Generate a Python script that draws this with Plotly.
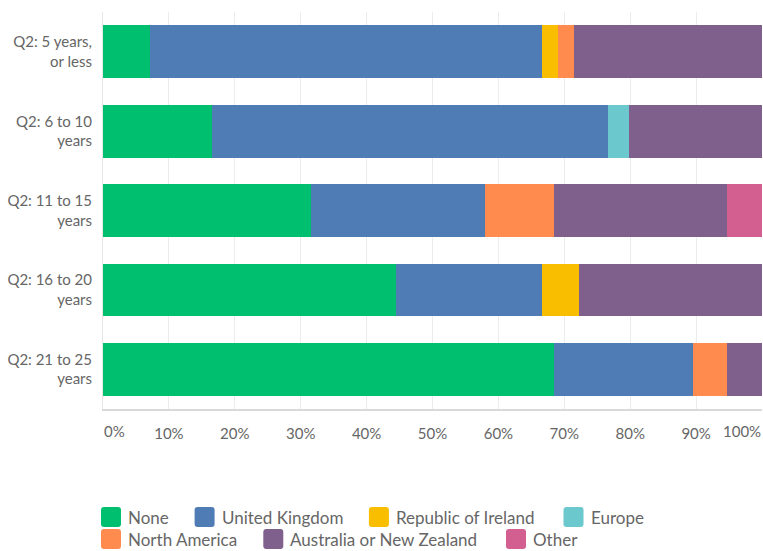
import plotly.graph_objects as go

# Row labels (top to bottom)
categories = [
    "Q2: 5 years,<br>or less",
    "Q2: 6 to 10<br>years",
    "Q2: 11 to 15<br>years",
    "Q2: 16 to 20<br>years",
    "Q2: 21 to 25<br>years",
]

# Share of respondents per answer, in percent
none_pct = [7.14, 16.6, 31.58, 44.44, 68.42]
uk_pct = [59.52, 60.0, 26.32, 22.22, 21.05]
ireland_pct = [2.38, 0.0, 0.0, 5.56, 0.0]
europe_pct = [0.0, 3.2, 0.0, 0.0, 0.0]
north_america_pct = [2.38, 0.0, 10.53, 0.0, 5.26]
anz_pct = [28.58, 20.2, 26.31, 27.78, 5.27]
other_pct = [0.0, 0.0, 5.26, 0.0, 0.0]

tick_values = [0, 10, 20, 30, 40, 50, 60, 70, 80, 90, 100]
tick_labels = [f"{v}%" for v in tick_values]

series_names = [
    "None",
    "United Kingdom",
    "Republic of Ireland",
    "Europe",
    "North America",
    "Australia or New Zealand",
    "Other",
]
series_values = [
    none_pct,
    uk_pct,
    ireland_pct,
    europe_pct,
    north_america_pct,
    anz_pct,
    other_pct,
]
series_colors = [
    "#00BF6F",
    "#507CB6",
    "#F9BE00",
    "#6BC8CD",
    "#FF8B4F",
    "#7F5F8C",
    "#D25F90",
]

FONT = "Lato"
TEXT_GREY = "#666666"

W, H = 763, 551
MARGIN = dict(l=103, r=1, t=12, b=142)
PLOT_W = W - MARGIN["l"] - MARGIN["r"]
PLOT_H = H - MARGIN["t"] - MARGIN["b"]


def px_to_paper(px, py):
    """Convert page pixels (origin top-left) to paper coordinates."""
    return (px - MARGIN["l"]) / PLOT_W, (H - MARGIN["b"] - py) / PLOT_H


def rounded_square(left, top, size, radius):
    """SVG path (paper coordinates) for a small rounded legend swatch."""
    x0, y0 = px_to_paper(left, top)
    x1, y1 = px_to_paper(left + size, top + size)
    rx = radius / PLOT_W
    ry = radius / PLOT_H
    return (
        f"M{x0 + rx},{y0} L{x1 - rx},{y0} Q{x1},{y0} {x1},{y0 - ry} "
        f"L{x1},{y1 + ry} Q{x1},{y1} {x1 - rx},{y1} "
        f"L{x0 + rx},{y1} Q{x0},{y1} {x0},{y1 + ry} "
        f"L{x0},{y0 - ry} Q{x0},{y0} {x0 + rx},{y0} Z"
    )


fig = go.Figure()
for name, values, color in zip(series_names, series_values, series_colors):
    fig.add_trace(
        go.Bar(
            y=categories,
            x=values,
            name=name,
            orientation="h",
            marker=dict(color=color, line=dict(width=0)),
            hovertemplate="%{y}: %{x:.2f}%<extra>" + name + "</extra>",
        )
    )

# Legend: two rows of rounded swatches with labels underneath the chart
legend_rows = [(507, [0, 1, 2, 3]), (529, [4, 5, 6])]
legend_slots = {0: 101, 1: 194.6, 2: 368.9, 3: 563.5, 4: 101, 5: 263.3, 6: 506}
SWATCH = 20
shapes, annotations = [], []
for top, members in legend_rows:
    for idx in members:
        left = legend_slots[idx]
        shapes.append(
            dict(
                type="path",
                xref="paper",
                yref="paper",
                path=rounded_square(left, top, SWATCH, 3),
                fillcolor=series_colors[idx],
                line=dict(width=0),
                layer="above",
            )
        )
        tx, ty = px_to_paper(left + 25, top + SWATCH / 2 + 0.5)
        annotations.append(
            dict(
                text=series_names[idx],
                xref="paper",
                yref="paper",
                x=tx,
                y=ty,
                xanchor="left",
                yanchor="middle",
                showarrow=False,
                font=dict(family=FONT, size=17, color=TEXT_GREY),
            )
        )

# The end labels are aligned inward so they stay inside the plot edges;
# the axis carries the inner ones.
tick_text = list(tick_labels)
tick_text[0] = ""
tick_text[-1] = ""
_, label_y = px_to_paper(0, 431)
for value, label, anchor in [
    (tick_values[0], tick_labels[0], "left"),
    (tick_values[-1], tick_labels[-1], "right"),
]:
    annotations.append(
        dict(
            text=label,
            xref="x",
            yref="paper",
            x=value,
            y=label_y,
            xanchor=anchor,
            yanchor="middle",
            showarrow=False,
            borderpad=0,
            font=dict(family=FONT, size=15, color=TEXT_GREY),
        )
    )

fig.update_layout(
    width=W,
    height=H,
    margin=dict(MARGIN, autoexpand=False),
    paper_bgcolor="white",
    plot_bgcolor="white",
    barmode="stack",
    bargap=0.335,
    font=dict(family=FONT, size=15, color=TEXT_GREY),
    showlegend=False,
    shapes=shapes,
    annotations=annotations,
    xaxis=dict(
        range=[0, 100],
        tickvals=tick_values,
        ticktext=tick_text,
        tickangle=0,
        showgrid=True,
        gridcolor="#ececec",
        gridwidth=1,
        zeroline=False,
        showline=True,
        linecolor="#d9d9d9",
        linewidth=2,
        ticks="",
        ticklabelstandoff=10,
        tickfont=dict(family=FONT, size=15, color=TEXT_GREY),
        automargin=False,
        fixedrange=True,
    ),
    yaxis=dict(
        autorange="reversed",
        showgrid=False,
        zeroline=False,
        showline=True,
        linecolor="#e6e6e6",
        linewidth=1,
        ticks="",
        ticklabelstandoff=7,
        tickfont=dict(family=FONT, size=15, color=TEXT_GREY),
        automargin=False,
        fixedrange=True,
    ),
)

fig.write_html("out.html")
